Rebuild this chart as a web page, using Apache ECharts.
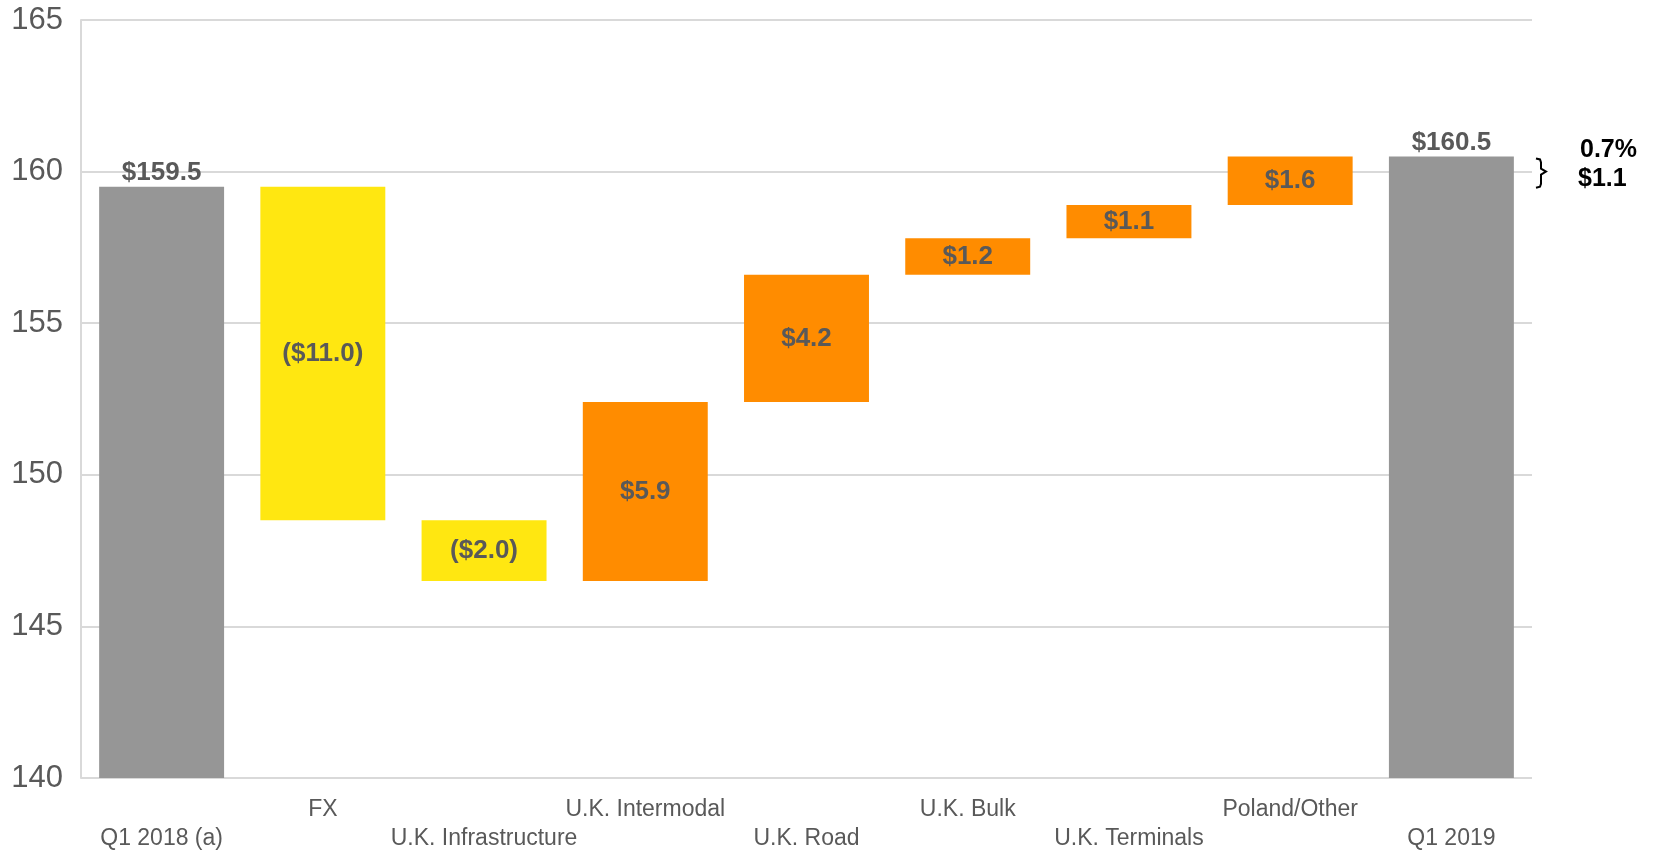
<!DOCTYPE html>
<html><head><meta charset="utf-8">
<script src="https://cdn.jsdelivr.net/npm/echarts@6/dist/echarts.min.js"></script>
<style>html,body{margin:0;padding:0;background:#fff}#c{width:1656px;height:853px}</style>
</head><body><div id="c"></div>
<script>
const categories = ['Q1 2018 (a)', 'FX', 'U.K. Infrastructure', 'U.K. Intermodal', 'U.K. Road', 'U.K. Bulk', 'U.K. Terminals', 'Poland/Other', 'Q1 2019'];
const startValue = 159.5;
const deltas = [-11.0, -2.0, 5.9, 4.2, 1.2, 1.1, 1.6];
const endValue = 160.5;
const yTicks = [140, 145, 150, 155, 160, 165];
const annotationLabels = ['0.7%', '$1.1'];

const GRAY = '#969696', YELLOW = '#FFE711', ORANGE = '#FF8C00', TXT = '#595959';
const fmt = v => v < 0 ? '($' + Math.abs(v).toFixed(1) + ')' : '$' + v.toFixed(1);

const baseData = [], barData = [];
baseData.push(0);
barData.push({value: startValue, itemStyle: {color: GRAY}, label: {position: 'top', formatter: fmt(startValue), distance: 1}});
let run = startValue;
deltas.forEach(d => {
  const next = run + d;
  baseData.push(Math.min(run, next));
  barData.push({value: Math.abs(d), itemStyle: {color: d < 0 ? YELLOW : ORANGE}, label: {position: 'inside', formatter: fmt(d)}});
  run = next;
});
baseData.push(0);
barData.push({value: endValue, itemStyle: {color: GRAY}, label: {position: 'top', formatter: fmt(endValue), distance: 1}});

const chart = echarts.init(document.getElementById('c'));
const GRID = {left: 81, right: 124, top: 20, bottom: 72};
chart.setOption({
  animation: false,
  grid: GRID,
  xAxis: {
    type: 'category', data: categories,
    axisLine: {show: false}, axisTick: {show: false},
    axisLabel: {
      interval: 0, margin: 17, color: TXT, fontSize: 23, fontFamily: 'Liberation Sans, Arial',
      lineHeight: 29, verticalAlign: 'top',
      formatter: (v, i) => i % 2 === 1 ? v : '\n' + v
    }
  },
  yAxis: {
    type: 'value', min: yTicks[0], max: yTicks[yTicks.length - 1], interval: 5,
    axisLine: {show: true, lineStyle: {color: '#d9d9d9', width: 2}},
    axisTick: {show: false},
    splitLine: {lineStyle: {color: '#d9d9d9', width: 2}},
    axisLabel: {color: TXT, fontSize: 31, margin: 18, fontFamily: 'Liberation Sans, Arial'}
  },
  series: [
    {type: 'bar', stack: 'w', data: baseData, itemStyle: {color: 'transparent'}, barCategoryGap: '22.5%', silent: true},
    {type: 'bar', stack: 'w', data: barData, barCategoryGap: '22.5%',
     label: {show: true, color: TXT, fontSize: 26, fontWeight: 'bold', fontFamily: 'Liberation Sans, Arial'}}
  ]
});

const topPx = chart.convertToPixel({gridIndex: 0}, [categories.length - 1, endValue])[1];
const botPx = chart.convertToPixel({gridIndex: 0}, [categories.length - 1, startValue])[1];
const bx = 1656 - GRID.right + 4;
const mid = (topPx + botPx) / 2;
chart.setOption({
  graphic: [
    {type: 'polyline', shape: {points: [[bx, topPx + 2], [bx + 4, topPx + 3], [bx + 5, topPx + 6], [bx + 5, mid - 3], [bx + 10, mid], [bx + 5, mid + 3], [bx + 5, botPx - 3], [bx + 4, botPx], [bx, botPx + 1]]},
     style: {stroke: '#000', lineWidth: 2, fill: null}},
    {type: 'text', left: 1580, top: mid - 34, style: {text: annotationLabels[0], fontSize: 25, fontWeight: 'bold', fill: '#000', fontFamily: 'Liberation Sans, Arial'}},
    {type: 'text', left: 1578, top: mid - 5, style: {text: annotationLabels[1], fontSize: 25, fontWeight: 'bold', fill: '#000', fontFamily: 'Liberation Sans, Arial'}}
  ]
});
</script></body></html>
